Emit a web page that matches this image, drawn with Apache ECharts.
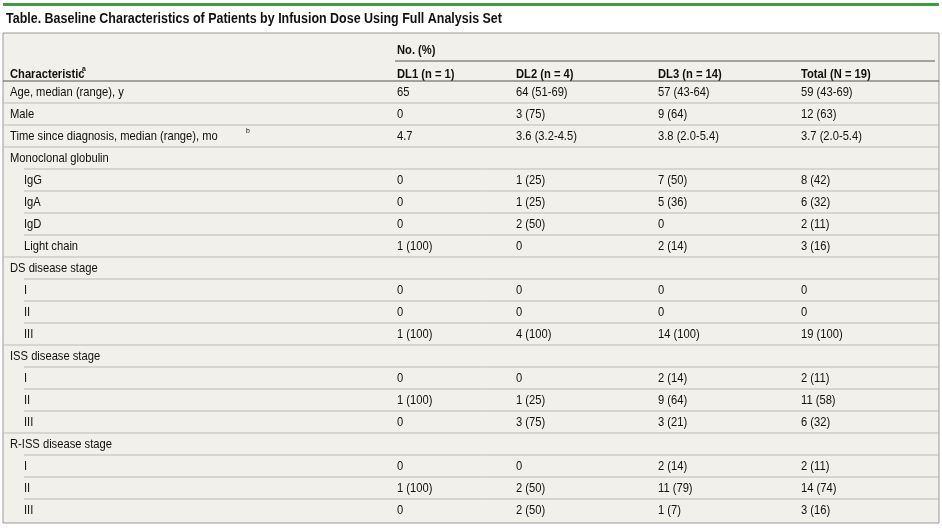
<!DOCTYPE html>
<html><head><meta charset="utf-8">
<script src="https://cdn.jsdelivr.net/npm/echarts@6/dist/echarts.min.js"></script>
<style>html,body{margin:0;padding:0;background:#fff}#c{width:942px;height:528px}</style>
</head><body><div id="c"></div>
<script>
var title = 'Table. Baseline Characteristics of Patients by Infusion Dose Using Full Analysis Set';
var columns = ['DL1 (n = 1)', 'DL2 (n = 4)', 'DL3 (n = 14)', 'Total (N = 19)'];
var labels = ['Age, median (range), y','Male','Time since diagnosis, median (range), mo','Monoclonal globulin','IgG','IgA','IgD','Light chain','DS disease stage','I','II','III','ISS disease stage','I','II','III','R-ISS disease stage','I','II','III'];
var indent = [0,0,0,0,1,1,1,1,0,1,1,1,0,1,1,1,0,1,1,1];
var dl1 = ['65','0','4.7','','0','0','0','1 (100)','','0','0','1 (100)','','0','1 (100)','0','','0','1 (100)','0'];
var dl2 = ['64 (51-69)','3 (75)','3.6 (3.2-4.5)','','1 (25)','1 (25)','2 (50)','0','','0','0','4 (100)','','0','1 (25)','3 (75)','','0','2 (50)','2 (50)'];
var dl3 = ['57 (43-64)','9 (64)','3.8 (2.0-5.4)','','7 (50)','5 (36)','0','2 (14)','','0','0','14 (100)','','2 (14)','9 (64)','3 (21)','','2 (14)','11 (79)','1 (7)'];
var total = ['59 (43-69)','12 (63)','3.7 (2.0-5.4)','','8 (42)','6 (32)','2 (11)','3 (16)','','0','0','19 (100)','','2 (11)','11 (58)','6 (32)','','2 (11)','14 (74)','3 (16)'];

var F = '"Liberation Sans",Arial,sans-serif';
var SX = 0.86;
var colX = [397, 516, 658, 801];
var top0 = 81, rowH = 22;
var els = [];
function txt(x,y,t,font){els.push({type:'text',x:x,y:y,scaleX:SX,style:{text:t,font:font,fill:'#111',textVerticalAlign:'middle'}});}
els.push({type:'rect',shape:{x:3,y:3,width:936,height:3},style:{fill:'#3e9b3e'}});
txt(6,19,title,'bold 14.5px '+F);
els.push({type:'rect',shape:{x:3,y:33,width:936,height:490},style:{fill:'#f1f0eb',stroke:'#999',lineWidth:1}});
txt(397,50,'No. (%)','bold 13px '+F);
els.push({type:'line',shape:{x1:395,y1:61,x2:935,y2:61},style:{stroke:'#555',lineWidth:1}});
txt(10,74,'Characteristic','bold 13px '+F);
txt(82,69,'a','bold 8px '+F);
columns.forEach(function(c,i){txt(colX[i],74,c,'bold 13px '+F);});
els.push({type:'line',shape:{x1:3,y1:top0,x2:939,y2:top0},style:{stroke:'#555',lineWidth:1}});
labels.forEach(function(l,r){
  var cy = top0 + rowH*r + rowH/2;
  var lx = indent[r] ? 24 : 10;
  txt(lx,cy,l,'13px '+F);
  if (r===2) txt(246,cy-5,'b','8px '+F);
  [dl1,dl2,dl3,total].forEach(function(a,i){ if (a[r]) txt(colX[i],cy,a[r],'13px '+F); });
  if (r < labels.length-1) {
    var ly = top0 + rowH*(r+1);
    var sx = indent[r+1] ? 24 : 3;
    els.push({type:'line',shape:{x1:sx,y1:ly,x2:939,y2:ly},style:{stroke:'#bbb',lineWidth:1}});
  }
});
var chart = echarts.init(document.getElementById('c'));
chart.setOption({animation:false,graphic:{elements:els}});
</script></body></html>
